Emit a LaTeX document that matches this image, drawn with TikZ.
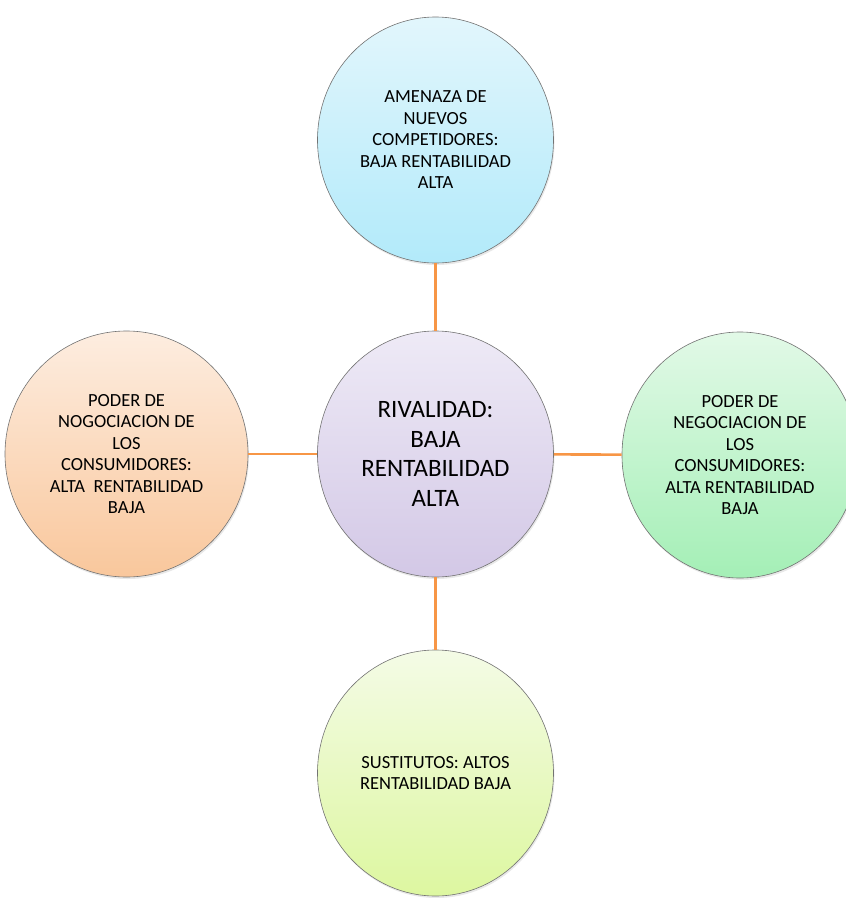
\documentclass[tikz,border=0pt]{standalone}
\usepackage{fontspec}
\setmainfont{Carlito}
\usetikzlibrary{shapes.geometric,shadows}
\definecolor{linkorange}{HTML}{F79646}
\definecolor{blueA}{HTML}{E2F6FC}\definecolor{blueB}{HTML}{B2EAFA}
\definecolor{lilaA}{HTML}{EEEAF6}\definecolor{lilaB}{HTML}{D3C8E6}
\definecolor{peachA}{HTML}{FDEDE0}\definecolor{peachB}{HTML}{F9C79C}
\definecolor{greenA}{HTML}{E2F9E7}\definecolor{greenB}{HTML}{A4EFB6}
\definecolor{limeA}{HTML}{F4FBE6}\definecolor{limeB}{HTML}{DDF7A0}
\begin{document}
\begin{tikzpicture}[x=1pt, y=-1pt,
    force/.style={ellipse, draw=black!55, line width=0.6pt, minimum width=236pt,
          minimum height=246pt, inner sep=0pt, align=center,
          font=\fontsize{18.5}{21.5}\selectfont,
          drop shadow={opacity=0.18, shadow xshift=1pt, shadow yshift=-2pt}},
    link/.style={draw=linkorange, line width=2.6pt}]
    \useasboundingbox (0,0) rectangle (846,898);
    \begin{scope}
        \clip (0,0) rectangle (846,898);
        \node[force, top color=lilaA, bottom color=lilaB,
              font=\fontsize{25}{29.5}\selectfont] (rival) at (435.5,454)
              {RIVALIDAD:\\BAJA\\RENTABILIDAD\\ALTA};
        \node[force, top color=blueA, bottom color=blueB] (nuevos) at (435.5,140)
              {AMENAZA DE\\NUEVOS\\COMPETIDORES:\\BAJA RENTABILIDAD\\ALTA};
        \node[force, top color=peachA, bottom color=peachB,
              minimum width=243pt] (compra) at (126.5,454)
              {PODER DE\\NOGOCIACION DE\\LOS\\CONSUMIDORES:\\ALTA\ \ RENTABILIDAD\\BAJA};
        \node[force, top color=greenA, bottom color=greenB] (provee) at (740,455)
              {PODER DE\\NEGOCIACION DE\\LOS\\CONSUMIDORES:\\ALTA RENTABILIDAD\\BAJA};
        \node[force, top color=limeA, bottom color=limeB] (sustit) at (435.5,773)
              {SUSTITUTOS: ALTOS\\RENTABILIDAD BAJA};
    \end{scope}
    \draw[link] (nuevos) -- (rival);
    \draw[link] (compra) -- (rival);
    \draw[link] (rival) -- (provee);
    \draw[link] (rival) -- (sustit);
\end{tikzpicture}
\end{document}
